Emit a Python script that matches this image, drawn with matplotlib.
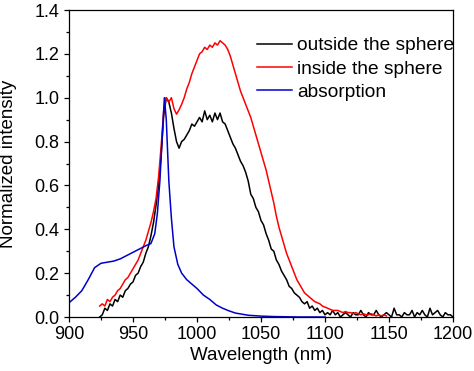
import numpy as np
import matplotlib
matplotlib.use("Agg")
import matplotlib.pyplot as plt
from matplotlib.ticker import MultipleLocator

plt.rcParams['font.family'] = ['Liberation Sans', 'DejaVu Sans']

# outside the sphere: sampled every 2 nm from 924 nm
outside_start = 924
outside_y = [
    0.00, 0.01, 0.04, 0.03, 0.06, 0.05, 0.08, 0.07, 0.10, 0.09,
    0.12, 0.13, 0.15, 0.16, 0.19, 0.20, 0.23, 0.25, 0.29, 0.32,
    0.37, 0.43, 0.51, 0.60, 0.74, 0.92, 1.00, 0.98, 0.93, 0.86,
    0.80, 0.77, 0.80, 0.81, 0.83, 0.85, 0.88, 0.87, 0.89, 0.91,
    0.89, 0.94, 0.90, 0.92, 0.89, 0.93, 0.90, 0.93, 0.89, 0.88,
    0.85, 0.82, 0.79, 0.77, 0.74, 0.71, 0.69, 0.66, 0.62, 0.56,
    0.54, 0.50, 0.48, 0.44, 0.42, 0.38, 0.35, 0.31, 0.30, 0.26,
    0.24, 0.21, 0.19, 0.17, 0.14, 0.13, 0.11, 0.10, 0.09, 0.07,
    0.06, 0.07, 0.04, 0.05, 0.03, 0.04, 0.02, 0.03, 0.01, 0.02,
    0.01, 0.03, 0.01, 0.02, 0.00, 0.01, 0.02, 0.01, 0.00, 0.02,
    0.01, 0.01, 0.03, 0.01, 0.00, 0.02, 0.01, 0.01, 0.03, 0.01,
    0.00, 0.01, 0.02, 0.01, 0.00, 0.04, 0.01, 0.01, 0.00, 0.02,
    0.01, 0.01, 0.03, 0.00, 0.02, 0.01, 0.03, 0.01, 0.00, 0.04,
    0.01, 0.02, 0.03, 0.01, 0.00, 0.02, 0.01, 0.01, 0.00,
]

# inside the sphere: sampled every 2 nm from 924 nm
inside_start = 924
inside_y = [
    0.05, 0.06, 0.05, 0.08, 0.07, 0.09, 0.10, 0.12, 0.13, 0.15,
    0.17, 0.18, 0.20, 0.22, 0.24, 0.26, 0.29, 0.32, 0.35, 0.39,
    0.43, 0.48, 0.54, 0.64, 0.78, 0.94, 1.00, 0.98, 1.00, 0.95,
    0.925, 0.945, 0.97, 1.00, 1.04, 1.07, 1.11, 1.14, 1.17, 1.20,
    1.21, 1.23, 1.22, 1.24, 1.23, 1.25, 1.24, 1.26, 1.25, 1.24,
    1.22, 1.19, 1.15, 1.11, 1.07, 1.03, 1.00, 0.97, 0.94, 0.91,
    0.87, 0.83, 0.79, 0.75, 0.71, 0.67, 0.62, 0.57, 0.52, 0.46,
    0.41, 0.37, 0.33, 0.29, 0.26, 0.23, 0.20, 0.17, 0.15, 0.13,
    0.11, 0.10, 0.09, 0.08, 0.07, 0.065, 0.06, 0.05, 0.045, 0.04,
    0.035, 0.03, 0.03, 0.03, 0.025, 0.02, 0.025, 0.02, 0.02, 0.015,
    0.02, 0.015, 0.01, 0.015, 0.01, 0.01, 0.015, 0.01, 0.005, 0.01,
    0.005, 0.01, 0.005,
]

# absorption
absorption_x = [900, 905, 910, 915, 920, 925, 930, 935, 940, 945, 950, 955,
                960, 964, 967, 969, 971, 973, 974.5, 976, 978, 980, 982, 985,
                988, 992, 996, 1000, 1005, 1010, 1015, 1020, 1025, 1030, 1040,
                1050, 1060, 1070, 1080, 1090, 1100]
absorption_y = [0.065, 0.09, 0.12, 0.17, 0.225, 0.245, 0.25, 0.255, 0.265, 0.28,
                0.295, 0.31, 0.325, 0.335, 0.38, 0.47, 0.62, 0.84, 1.0, 0.90,
                0.62, 0.45, 0.32, 0.24, 0.20, 0.17, 0.15, 0.13, 0.10, 0.08,
                0.055, 0.04, 0.028, 0.018, 0.008, 0.004, 0.002, 0.001, 0.0,
                0.0, 0.0]

x_ticks = [900, 950, 1000, 1050, 1100, 1150, 1200]
y_ticks = [0.0, 0.2, 0.4, 0.6, 0.8, 1.0, 1.2, 1.4]

W, H = 474, 371
fig = plt.figure(figsize=(W / 100, H / 100), dpi=100)
ax_l, ax_r, ax_t, ax_b = 69, 453, 10, 317
ax = fig.add_axes([ax_l / W, (H - ax_b) / H, (ax_r - ax_l) / W, (ax_b - ax_t) / H])

outside_x = outside_start + 2 * np.arange(len(outside_y))
inside_x = inside_start + 2 * np.arange(len(inside_y))

ax.plot(outside_x, outside_y, color='black', lw=1.1, label='outside the sphere')
ax.plot(inside_x, inside_y, color='#ff0000', lw=1.1, label='inside the sphere')
ax.plot(absorption_x, absorption_y, color='#0000cc', lw=1.1, label='absorption')

ax.set_xlim(900, 1200)
ax.set_ylim(0, 1.4)
ax.set_xticks(x_ticks)
ax.set_yticks(y_ticks)
ax.set_yticklabels([f"{v:.1f}" for v in y_ticks])
ax.xaxis.set_minor_locator(MultipleLocator(25))
ax.yaxis.set_minor_locator(MultipleLocator(0.1))
ax.tick_params(which='major', direction='out', length=3.8, width=0.9,
               labelsize=13, pad=3, top=False, right=False)
ax.tick_params(which='minor', direction='out', length=2.2, width=0.9,
               top=False, right=False)
for s in ax.spines.values():
    s.set_linewidth(0.9)

ax.set_xlabel('Wavelength (nm)', fontsize=13.5)
ax.set_ylabel('Normalized intensity', fontsize=13.5)
ax.xaxis.set_label_coords(0.5, (ax_b - 346.5) / (ax_b - ax_t))
ax.yaxis.set_label_coords((17 - ax_l) / (ax_r - ax_l), 0.5)

leg = ax.legend(loc='upper left', frameon=False, fontsize=13.8,
                handlelength=1.8, handletextpad=0.3, labelspacing=0.3,
                borderpad=0, borderaxespad=0,
                bbox_to_anchor=((257 - ax_l) / (ax_r - ax_l),
                                (ax_b - 37) / (ax_b - ax_t)))

fig.savefig('out.png', dpi=100)
